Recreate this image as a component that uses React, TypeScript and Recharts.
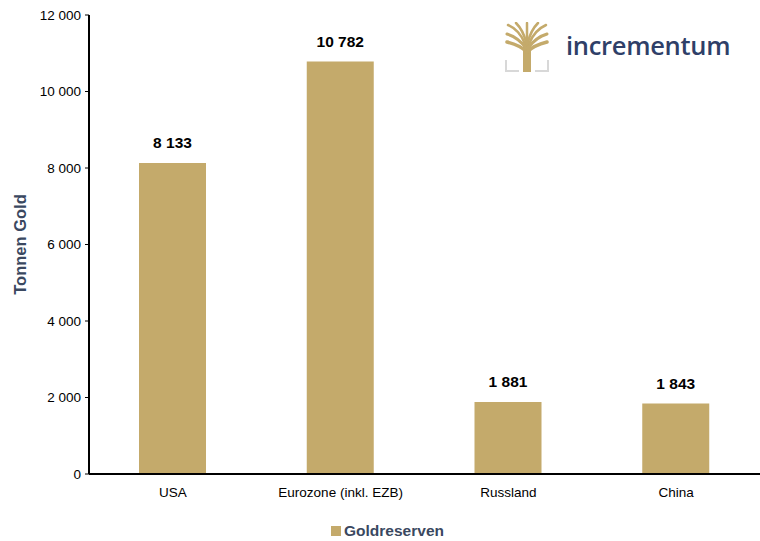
import { BarChart, Bar, XAxis, YAxis, LabelList, Legend } from "recharts";

const countries = ["USA", "Eurozone (inkl. EZB)", "Russland", "China"];
const goldReserves = [8133, 10782, 1881, 1843];
const yTicks = [0, 2000, 4000, 6000, 8000, 10000, 12000];

const GOLD = "#c4aa6b";
const SLATE = "#3a4860";
const NAVY = "#2f3f68";
const FONT = "Liberation Sans, Arial, sans-serif";

const data = countries.map((name, i) => ({ name, value: goldReserves[i] }));

const fmt = (v: number) => String(v).replace(/\B(?=(\d{3})+(?!\d))/g, " ");

function LegendContent() {
  return (
    <div style={{ display: "flex", justifyContent: "center", alignItems: "center", fontFamily: FONT, paddingLeft: 15 }}>
      <span style={{ width: 10, height: 10, background: GOLD, display: "inline-block", marginRight: 3 }} />
      <span style={{ fontSize: 15.5, fontWeight: 700, color: SLATE }}>Goldreserven</span>
    </div>
  );
}

function Logo() {
  return (
    <div style={{ position: "absolute", left: 505, top: 22, display: "flex", alignItems: "center" }}>
      <svg width={44} height={50} viewBox="0 0 44 50">
        <g stroke={GOLD} fill="none" strokeLinecap="round">
          <path d="M22 50 L22 24" strokeWidth={8} />
          <path d="M22 30 C16 24 10 22 2 20" strokeWidth={3.5} />
          <path d="M22 30 C28 24 34 22 42 20" strokeWidth={3.5} />
          <path d="M21 26 C15 18 9 14 2 12" strokeWidth={3} />
          <path d="M23 26 C29 18 35 14 42 12" strokeWidth={3} />
          <path d="M20 22 C17 14 12 7 3 3" strokeWidth={2.5} />
          <path d="M24 22 C27 14 32 7 41 3" strokeWidth={2.5} />
          <path d="M21 20 C19 12 16 6 11 1" strokeWidth={2.5} />
          <path d="M23 20 C25 12 28 6 33 1" strokeWidth={2.5} />
          <path d="M22 22 L22 1" strokeWidth={2.5} />
        </g>
        <path d="M1 38 L1 49 L14 49" stroke="#d8d8d8" strokeWidth={2} fill="none" />
        <path d="M43 38 L43 49 L30 49" stroke="#d8d8d8" strokeWidth={2} fill="none" />
      </svg>
      <span style={{ marginLeft: 17, marginTop: -4, fontFamily: "Open Sans, sans-serif", fontWeight: 600, fontSize: 25.5, color: NAVY, letterSpacing: -0.3 }}>
        incrementum
      </span>
    </div>
  );
}

export default function App() {
  const tickStyle = { fill: "#000", fontSize: 13.5, fontFamily: FONT };
  return (
    <div style={{ position: "absolute", left: 0, top: 0, width: 760, height: 541, background: "#fff" }}>
      <BarChart width={760} height={541} data={data} margin={{ top: 15, right: 0, bottom: 19, left: 0 }}>
        <XAxis
          dataKey="name"
          tick={tickStyle}
          tickLine={false}
          axisLine={{ stroke: "#000", strokeWidth: 2 }}
          height={30}
          tickMargin={7}
        />
        <YAxis
          domain={[0, 12000]}
          ticks={yTicks}
          tickFormatter={fmt}
          tick={tickStyle}
          tickLine={{ stroke: "#000", strokeWidth: 1 }}
          tickSize={4}
          tickMargin={4}
          axisLine={{ stroke: "#000", strokeWidth: 2 }}
          width={89}
          interval={0}
          label={{
            value: "Tonnen Gold",
            angle: -90,
            position: "insideLeft",
            offset: 20,
            style: { textAnchor: "middle", fill: SLATE, fontSize: 16.5, fontWeight: 700, fontFamily: FONT },
          }}
        />
        <Legend verticalAlign="bottom" content={<LegendContent />} wrapperStyle={{ bottom: 1 }} />
        <Bar dataKey="value" name="Goldreserven" fill={GOLD} barSize={67} isAnimationActive={false}>
          <LabelList
            dataKey="value"
            position="top"
            offset={15}
            formatter={(v: number) => fmt(v)}
            style={{ fill: "#000", fontSize: 15.5, fontWeight: 700, fontFamily: FONT }}
          />
        </Bar>
      </BarChart>
      <Logo />
    </div>
  );
}
